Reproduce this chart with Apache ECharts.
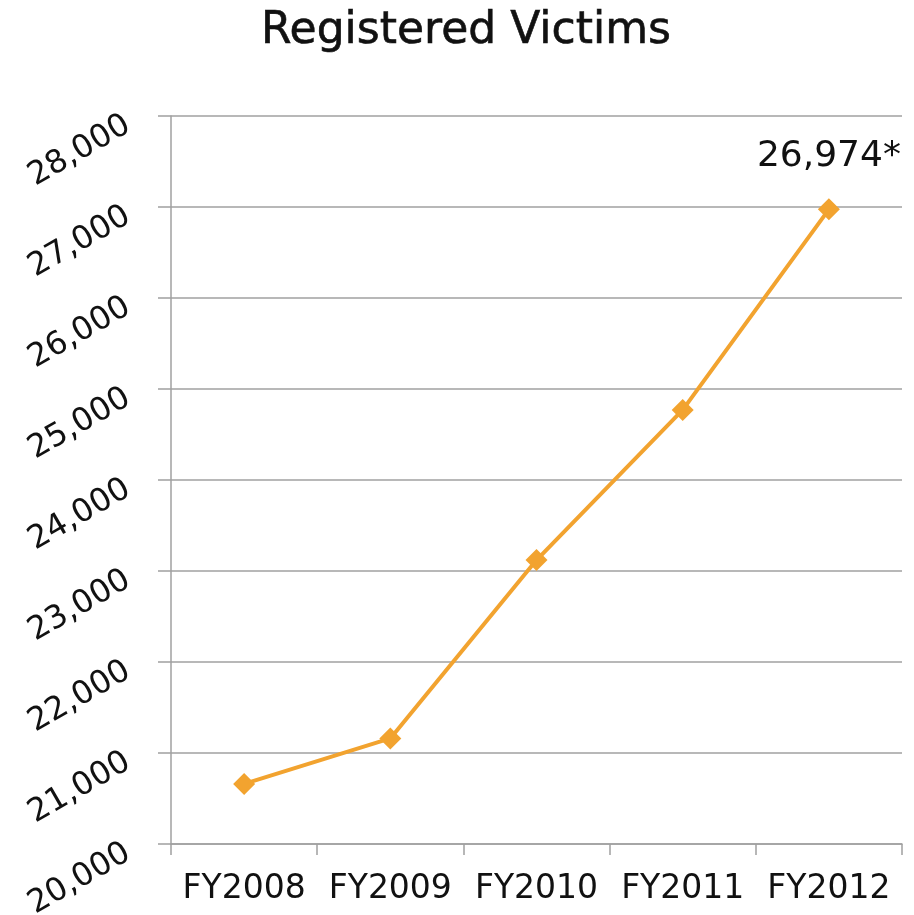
<!DOCTYPE html>
<html>
<head>
<meta charset="utf-8">
<script src="https://cdn.jsdelivr.net/npm/echarts@6/dist/echarts.min.js"></script>
<style>
html,body{margin:0;padding:0;background:#fff;}
#chart{width:914px;height:915px;}
</style>
</head>
<body>
<div id="chart"></div>
<script>
const title = 'Registered Victims';
const categories = ['FY2008', 'FY2009', 'FY2010', 'FY2011', 'FY2012'];
const victims = [20660, 21160, 23120, 24770, 26974];
const lastLabel = '26,974*';
const yTicks = [20000, 21000, 22000, 23000, 24000, 25000, 26000, 27000, 28000];

const chart = echarts.init(document.getElementById('chart'));
const gray = '#a0a0a0';
const orange = '#F2A32F';
const font = 'DejaVu Sans';

chart.setOption({
  animation: false,
  backgroundColor: '#ffffff',
  title: {
    text: title,
    left: 256,
    top: 5,
    textStyle: { fontFamily: font, fontSize: 44, fontWeight: 'normal', color: '#111', textBorderColor: '#111', textBorderWidth: 0.6 }
  },
  grid: { left: 171, right: 12, top: 116, bottom: 71, containLabel: false, outerBoundsMode: 'none' },
  xAxis: {
    type: 'category',
    data: categories,
    boundaryGap: true,
    axisLine: { show: true, lineStyle: { color: gray, width: 1.5 } },
    axisTick: { show: true, length: 11, alignWithLabel: false, lineStyle: { color: gray, width: 1.5 } },
    axisLabel: { fontFamily: font, fontSize: 33, color: '#111', margin: 29, interval: 0 }
  },
  yAxis: {
    type: 'value',
    min: yTicks[0],
    max: yTicks[yTicks.length - 1],
    interval: 1000,
    axisLine: { show: true, lineStyle: { color: gray, width: 1.5 } },
    axisTick: { show: true, length: 13, lineStyle: { color: gray, width: 1.5 } },
    splitLine: { show: true, lineStyle: { color: gray, width: 1.5 } },
    axisLabel: {
      fontFamily: font, fontSize: 32, color: '#111', rotate: 30, margin: 47,
      verticalAlign: 'top', lineHeight: 16,
      formatter: v => v.toLocaleString('en-US')
    }
  },
  series: [{
    type: 'line',
    data: victims.map((v, i) => i === victims.length - 1 ? {
      value: v,
      label: {
        show: true, position: 'top', distance: 24,
        formatter: () => lastLabel,
        fontFamily: font, fontSize: 36, color: '#111'
      }
    } : v),
    symbol: 'diamond',
    symbolSize: 22,
    lineStyle: { color: orange, width: 4 },
    itemStyle: { color: orange }
  }]
});
</script>
</body>
</html>
